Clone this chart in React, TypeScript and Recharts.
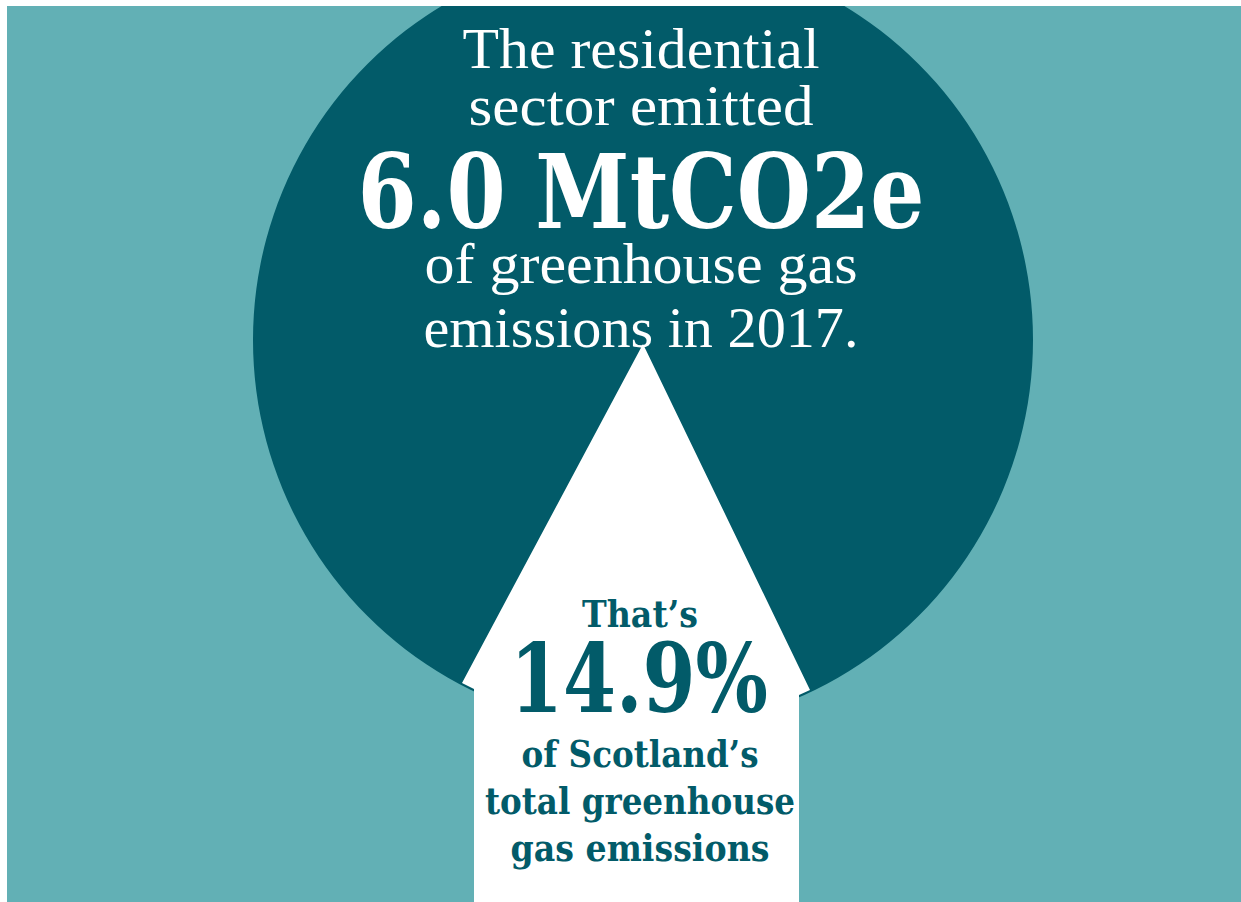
import React from "react";
import { PieChart, Pie, Cell, Customized } from "recharts";

// headline figures
const sectors = ["Residential"];
const emissionsMt = [6.0];
const shareOfTotal = [14.9];
const reportYear = 2017;

const topLines = ["The residential", "sector emitted"];
const bottomLines = ["of greenhouse gas", `emissions in ${reportYear}.`];
const shareLines = ["of Scotland\u2019s", "total greenhouse", "gas emissions"];

const DARK = "#025B69";
const LIGHT = "#62B0B5";
const W = 1234;
const H = 896;
const CX = 636;
const CY = 334;
const R = 390;

const thin = "'Liberation Serif', serif";
const bold = "'DejaVu Serif', serif";

const pieData = sectors.map((s, i) => ({ name: s, value: emissionsMt[i] }));

function Overlay() {
  const x = CX - 2;
  const house = [
    [CX, CY + 4],
    [CX - 181, CY + 343],
    [CX - 169, CY + 349],
    [CX - 169, H],
    [CX + 156, H],
    [CX + 156, CY + 355],
    [CX + 167, CY + 350],
  ]
    .map((p) => p.join(","))
    .join(" ");
  return (
    <g>
      <polygon points={house} fill="#ffffff" />
      <text x={x} y={62} textAnchor="middle" fill="#fff" fontFamily={thin} fontSize={56} textLength={357} lengthAdjust="spacingAndGlyphs">
        {topLines[0]}
      </text>
      <text x={x} y={119} textAnchor="middle" fill="#fff" fontFamily={thin} fontSize={56} textLength={345} lengthAdjust="spacingAndGlyphs">
        {topLines[1]}
      </text>
      <text x={x} y={222} textAnchor="middle" fill="#fff" fontFamily={bold} fontWeight="bold" fontSize={103} textLength={567} lengthAdjust="spacingAndGlyphs">
        {`${emissionsMt[0].toFixed(1)} MtCO2e`}
      </text>
      <text x={x} y={277} textAnchor="middle" fill="#fff" fontFamily={thin} fontSize={56} textLength={433} lengthAdjust="spacingAndGlyphs">
        {bottomLines[0]}
      </text>
      <text x={x} y={341} textAnchor="middle" fill="#fff" fontFamily={thin} fontSize={56} textLength={435} lengthAdjust="spacingAndGlyphs">
        {bottomLines[1]}
      </text>
      <text x={x - 1} y={621} textAnchor="middle" fill={DARK} fontFamily={bold} fontWeight="bold" fontSize={37} textLength={116} lengthAdjust="spacingAndGlyphs">
        That{"\u2019"}s
      </text>
      <text x={x - 2} y={706} textAnchor="middle" fill={DARK} fontFamily={bold} fontWeight="bold" fontSize={96} textLength={258} lengthAdjust="spacingAndGlyphs">
        {`${shareOfTotal[0]}%`}
      </text>
      {shareLines.map((l, i) => (
        <text key={l} x={x - 1} y={761 + i * 47} textAnchor="middle" fill={DARK} fontFamily={bold} fontWeight="bold" fontSize={37} textLength={[237, 310, 259][i]} lengthAdjust="spacingAndGlyphs">
          {l}
        </text>
      ))}
    </g>
  );
}

export default function App() {
  return (
    <div style={{ position: "absolute", left: 7, top: 6, width: W, height: H, background: LIGHT, overflow: "hidden" }}>
      <div style={{ position: "absolute", left: 0, top: 0 }}>
        <PieChart width={W} height={H} margin={{ top: 0, right: 0, bottom: 0, left: 0 }}>
          <Pie
            data={pieData}
            dataKey="value"
            nameKey="name"
            cx={CX}
            cy={CY}
            outerRadius={R}
            innerRadius={0}
            startAngle={90}
            endAngle={-270}
            stroke="none"
            isAnimationActive={false}
          >
            {pieData.map((d) => (
              <Cell key={d.name} fill={DARK} />
            ))}
          </Pie>
        </PieChart>
      </div>
      <div style={{ position: "absolute", left: 0, top: 0 }}>
        <PieChart width={W} height={H} margin={{ top: 0, right: 0, bottom: 0, left: 0 }}>
          <Customized component={Overlay} />
        </PieChart>
      </div>
    </div>
  );
}
